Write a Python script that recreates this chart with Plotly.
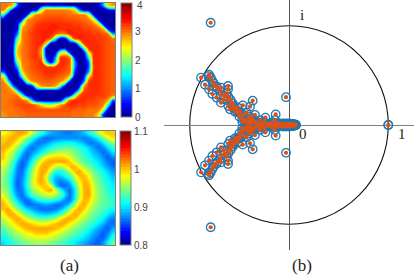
import plotly.graph_objects as go

# Upper field (values 0..4) on a 24x24 grid
field_u = [
 [2.95,2.95,2.7,0.7,0.1,0.1,0.1,0.1,0.1,0.3,0.3,0.3,0.3,0.2,0.1,0.1,0.1,0.1,0.1,0.1,0.2,1.0,2.6,2.85],
 [2.95,1.8,0.2,0.1,0.1,0.1,0.1,0.3,2.2,2.95,2.95,2.95,2.95,2.95,2.85,2.6,0.9,0.1,0.1,0.1,0.1,0.1,0.2,0.5],
 [1.5,0.2,0.1,0.1,0.1,0.3,2.4,2.95,3.0,3.07,3.07,3.07,3.07,3.07,3.0,3.0,2.95,2.95,2.3,0.3,0.1,0.1,0.1,0.1],
 [0.2,0.1,0.1,0.1,0.5,2.8,3.0,3.07,3.13,3.2,3.2,3.2,3.2,3.13,3.13,3.13,3.07,3.0,2.95,2.4,0.3,0.1,0.1,0.1],
 [0.1,0.1,0.1,0.2,2.3,2.95,3.07,3.2,3.27,3.27,3.3,3.3,3.27,3.27,3.27,3.2,3.2,3.13,3.07,3.0,2.6,0.4,0.1,0.1],
 [0.1,0.1,0.1,0.4,2.85,3.0,3.13,3.27,3.3,3.3,3.3,3.3,3.3,3.3,3.3,3.27,3.27,3.2,3.2,3.13,3.07,2.8,0.5,0.1],
 [0.1,0.1,0.1,0.9,2.95,3.07,3.2,3.27,3.3,3.3,3.3,3.13,2.95,3.0,3.3,3.3,3.3,3.27,3.27,3.2,3.2,3.13,3.0,1.0],
 [0.1,0.1,0.1,1.7,2.95,3.07,3.2,3.27,3.3,3.3,3.07,1.5,0.2,0.3,1.8,3.2,3.3,3.3,3.27,3.27,3.2,3.2,3.13,3.0],
 [0.1,0.1,0.2,2.2,2.95,3.07,3.2,3.27,3.3,2.6,0.2,0.1,0.1,0.1,0.1,0.2,1.9,3.27,3.3,3.27,3.27,3.2,3.13,3.07],
 [0.1,0.1,0.3,2.6,2.95,3.07,3.2,3.27,2.95,0.3,0.1,0.1,0.1,0.1,0.1,0.1,0.1,1.8,3.3,3.27,3.27,3.2,3.13,3.07],
 [0.1,0.1,0.3,2.7,2.95,3.07,3.2,3.27,2.8,0.2,0.1,0.3,2.0,2.4,0.5,0.1,0.1,0.2,2.4,3.3,3.27,3.2,3.13,3.07],
 [0.1,0.1,0.2,2.5,2.95,3.07,3.2,3.27,3.0,0.5,0.1,1.0,3.2,3.27,2.95,0.3,0.1,0.1,1.5,3.3,3.27,3.2,3.13,3.07],
 [0.1,0.1,0.1,1.9,2.95,3.0,3.13,3.2,3.27,1.5,0.1,1.5,3.3,3.27,3.13,1.0,0.1,0.1,0.8,3.27,3.27,3.2,3.13,3.07],
 [0.1,0.1,0.1,1.1,2.85,3.0,3.13,3.2,3.27,3.27,3.2,3.27,3.27,3.2,3.07,1.0,0.1,0.1,0.7,3.2,3.27,3.2,3.13,3.07],
 [0.7,0.1,0.1,0.4,2.6,2.95,3.07,3.13,3.2,3.27,3.27,3.27,3.2,3.13,3.0,0.6,0.1,0.1,1.1,3.27,3.27,3.2,3.13,3.07],
 [2.5,0.4,0.1,0.1,1.6,2.85,3.0,3.07,3.13,3.2,3.2,3.13,3.07,3.0,2.6,0.2,0.1,0.3,2.5,3.27,3.27,3.2,3.13,3.07],
 [2.95,1.4,0.1,0.1,0.2,2.0,2.85,3.0,3.07,3.07,3.07,3.0,2.95,2.5,0.4,0.1,0.1,0.8,3.2,3.27,3.27,3.2,3.13,3.07],
 [2.95,2.85,0.9,0.1,0.1,0.1,0.3,2.2,2.85,2.95,2.95,2.8,1.6,0.2,0.1,0.1,0.3,2.8,3.27,3.27,3.27,3.2,3.13,3.07],
 [2.95,2.95,2.8,1.2,0.1,0.1,0.1,0.1,0.1,0.1,0.1,0.1,0.1,0.1,0.1,0.1,1.5,3.13,3.27,3.27,3.27,3.2,3.13,3.07],
 [2.95,2.95,3.0,2.95,1.6,0.3,0.1,0.1,0.1,0.1,0.1,0.1,0.1,0.1,0.3,1.8,3.13,3.27,3.27,3.27,3.2,3.2,3.13,2.95],
 [2.95,3.0,3.07,3.13,3.07,2.8,1.2,0.2,0.1,0.1,0.1,0.1,0.2,1.6,3.07,3.27,3.27,3.27,3.2,3.2,3.13,3.07,2.85,0.8],
 [2.95,3.0,3.07,3.13,3.2,3.2,3.2,2.95,2.6,2.3,2.2,2.4,2.85,3.13,3.27,3.27,3.2,3.2,3.13,3.13,3.07,2.95,1.6,0.1],
 [2.95,2.95,3.0,3.07,3.07,3.13,3.13,3.13,3.13,3.13,3.13,3.13,3.13,3.13,3.13,3.07,3.07,3.07,3.0,3.0,2.95,2.3,0.3,0.1],
 [2.85,2.95,2.95,3.0,3.0,3.07,3.07,3.07,3.07,3.07,3.07,3.07,3.07,3.07,3.07,3.0,3.0,3.0,2.95,2.95,2.6,0.6,0.1,0.1],
]

# Lower field (values 0.8..1.1) on a 24x24 grid
field_l = [
 [0.98,0.99,1.0,1.01,1.01,1.0,0.97,0.94,0.92,0.9,0.885,0.88,0.875,0.87,0.87,0.875,0.88,0.89,0.91,0.93,0.96,0.99,1.0,1.0],
 [1.0,1.0,1.01,1.0,0.98,0.95,0.92,0.895,0.875,0.865,0.865,0.87,0.875,0.875,0.875,0.875,0.875,0.87,0.875,0.89,0.91,0.94,0.97,0.99],
 [1.0,1.01,1.0,0.98,0.95,0.92,0.89,0.87,0.87,0.875,0.89,0.9,0.905,0.91,0.91,0.905,0.895,0.885,0.87,0.87,0.88,0.9,0.93,0.95],
 [1.01,1.0,0.98,0.95,0.92,0.885,0.865,0.875,0.89,0.9,0.915,0.925,0.93,0.935,0.935,0.93,0.92,0.91,0.895,0.88,0.865,0.875,0.9,0.92],
 [1.0,0.98,0.96,0.93,0.895,0.865,0.875,0.89,0.905,0.925,0.945,0.955,0.96,0.96,0.955,0.945,0.93,0.92,0.905,0.89,0.88,0.865,0.875,0.9],
 [1.0,0.97,0.95,0.91,0.875,0.865,0.89,0.915,0.95,0.98,0.99,0.995,0.995,0.99,0.975,0.955,0.94,0.925,0.915,0.9,0.89,0.875,0.86,0.875],
 [0.985,0.96,0.93,0.89,0.86,0.875,0.91,0.95,0.985,1.005,1.01,1.01,1.01,1.01,1.0,0.97,0.95,0.935,0.925,0.91,0.9,0.885,0.87,0.86],
 [0.97,0.95,0.92,0.875,0.86,0.885,0.93,0.97,1.005,1.01,0.995,0.97,0.96,0.98,1.0,1.005,0.98,0.955,0.94,0.925,0.91,0.895,0.88,0.865],
 [0.96,0.94,0.905,0.87,0.865,0.9,0.945,0.985,1.01,1.005,0.96,0.92,0.915,0.93,0.96,1.0,1.01,0.985,0.96,0.94,0.925,0.91,0.895,0.88],
 [0.955,0.93,0.9,0.865,0.87,0.905,0.955,0.99,1.01,0.985,0.925,0.89,0.895,0.91,0.93,0.97,1.0,1.005,0.98,0.95,0.935,0.92,0.905,0.89],
 [0.95,0.93,0.895,0.86,0.875,0.91,0.96,0.995,1.01,0.99,0.92,0.885,0.87,0.88,0.9,0.945,0.985,1.005,0.995,0.96,0.94,0.925,0.91,0.9],
 [0.95,0.935,0.895,0.86,0.875,0.915,0.96,0.985,1.0,1.0,0.97,0.89,0.865,0.865,0.875,0.92,0.975,1.005,1.005,0.97,0.945,0.93,0.915,0.905],
 [0.96,0.94,0.9,0.865,0.87,0.905,0.945,0.965,0.98,1.0,1.01,0.97,0.92,0.885,0.865,0.9,0.965,1.005,1.01,0.975,0.95,0.935,0.92,0.91],
 [0.975,0.95,0.91,0.875,0.865,0.895,0.925,0.945,0.955,0.965,0.97,0.96,0.94,0.9,0.865,0.9,0.965,1.005,1.01,0.975,0.95,0.935,0.925,0.915],
 [0.995,0.965,0.93,0.895,0.87,0.865,0.885,0.905,0.92,0.925,0.925,0.915,0.9,0.875,0.865,0.905,0.975,1.005,1.0,0.97,0.95,0.94,0.93,0.92],
 [1.005,0.985,0.95,0.92,0.89,0.865,0.865,0.87,0.875,0.88,0.875,0.865,0.865,0.875,0.9,0.95,0.995,1.01,0.985,0.96,0.945,0.935,0.93,0.92],
 [1.0,1.01,0.98,0.95,0.92,0.9,0.885,0.875,0.865,0.865,0.865,0.87,0.885,0.91,0.95,0.99,1.01,0.995,0.97,0.95,0.94,0.93,0.92,0.91],
 [0.98,1.005,1.01,0.985,0.96,0.935,0.92,0.9,0.895,0.89,0.895,0.905,0.925,0.955,0.99,1.01,1.0,0.975,0.955,0.94,0.93,0.92,0.905,0.89],
 [0.965,0.985,1.0,1.01,0.995,0.97,0.955,0.945,0.935,0.935,0.945,0.96,0.985,1.005,1.01,1.0,0.975,0.96,0.945,0.93,0.92,0.905,0.885,0.87],
 [0.95,0.965,0.985,1.0,1.01,1.005,0.995,0.985,0.98,0.98,0.99,1.0,1.01,1.005,0.985,0.97,0.955,0.94,0.93,0.92,0.905,0.89,0.87,0.865],
 [0.935,0.95,0.965,0.98,0.995,1.005,1.01,1.01,1.01,1.01,1.01,1.005,0.995,0.98,0.965,0.95,0.94,0.93,0.915,0.9,0.885,0.87,0.86,0.88],
 [0.92,0.935,0.95,0.96,0.97,0.985,0.99,1.0,1.0,1.0,0.99,0.98,0.97,0.955,0.945,0.935,0.925,0.915,0.9,0.885,0.875,0.86,0.87,0.9],
 [0.91,0.92,0.935,0.945,0.955,0.965,0.97,0.975,0.975,0.975,0.97,0.96,0.95,0.94,0.93,0.92,0.91,0.9,0.89,0.875,0.865,0.86,0.885,0.92],
 [0.9,0.91,0.92,0.93,0.94,0.945,0.95,0.955,0.955,0.95,0.945,0.94,0.93,0.925,0.915,0.905,0.895,0.885,0.875,0.865,0.86,0.875,0.905,0.94],
]

# Eigenvalues with non-negative imaginary part (the rest are their conjugates)
eig_re = [-0.789,-0.03,1.0,
 -0.886,-0.805,-0.789,-0.846,-0.812,-0.772,-0.805,-0.755,-0.772,-0.721,-0.685,-0.614,-0.614,
 -0.685,-0.728,-0.685,-0.661,-0.611,-0.587,-0.611,-0.567,-0.554,-0.594,-0.52,-0.493,-0.544,
 -0.466,-0.393,-0.366,-0.46,-0.5,-0.426,-0.399,-0.443,-0.238,-0.134,-0.252,-0.342,-0.292,
 -0.376,-0.141,-0.47,
 -0.44,-0.42,-0.40,-0.38,-0.36,-0.34,-0.47,-0.5,-0.53,-0.56,-0.62,-0.65,-0.69,-0.73,-0.76,-0.63,-0.58,-0.52,
 -0.42,-0.39,-0.36,-0.33,-0.3,-0.27,-0.24,-0.21,-0.18,-0.16,-0.14,-0.12,-0.1,-0.08,-0.06,
 -0.045,-0.03,-0.015,0.0,0.01,0.02,0.03,0.04,0.05,0.06,0.07]
eig_im = [1.03,0.28,0.0,
 0.477,0.507,0.48,0.406,0.493,0.443,0.359,0.393,0.312,0.369,0.376,0.393,0.359,
 0.302,0.275,0.225,0.258,0.285,0.252,0.191,0.218,0.168,0.158,0.178,0.134,0.134,
 0.198,0.185,0.245,0.101,0.084,0.124,0.084,0.05,0.074,0.107,0.03,0.101,0.05,
 0.044,0.05,0.03,
 0.03,0.06,0.04,0.07,0.05,0.03,0.06,0.12,0.15,0.19,0.25,0.29,0.34,0.39,0.42,0.32,0.22,0.13,
 0.02,0.012,0.03,0.01,0.02,0.01,0.02,0.008,0.02,0.01,0.02,0.01,0.015,0.01,0.015,
 0.01,0.015,0.01,0.015,0.01,0.012,0.008,0.01,0.006,0.005,0.0]

ticks_u = [0, 1, 2, 3]
ticks_l = [0.8, 0.9, 1, 1.1]
W, H = 415, 276
GREY = "#808080"
TICKFONT = dict(family="Liberation Sans", size=10, color="#444444")
JET = [[0, "rgb(0,0,143)"], [0.11, "rgb(0,0,255)"], [0.36, "rgb(0,255,255)"], [0.61, "rgb(255,255,0)"],
       [0.86, "rgb(255,0,0)"], [1, "rgb(128,0,0)"]]

fig = go.Figure()

def dom_x(a, b):
    return [a / W, b / W]

def dom_y(top, bottom):
    return [1 - bottom / H, 1 - top / H]

def pad(rows):
    wide = [[r[0]] + r + [r[-1]] for r in rows]
    return [wide[0]] + wide + [wide[-1]]

grid = [-0.5] + list(range(24)) + [23.5]

fig.add_trace(go.Contour(
    z=pad(field_u), x=grid, y=grid, zmin=0, zmax=4, colorscale=JET,
    contours=dict(coloring="fill", start=0, end=4, size=0.05),
    line=dict(width=0, smoothing=1.3), xaxis="x", yaxis="y",
    colorbar=dict(x=121 / W, xanchor="left", xpad=0, y=1 - 3 / H, yanchor="top", ypad=0,
                  len=114 / H, lenmode="fraction", thickness=11, thicknessmode="pixels",
                  tickvals=ticks_u, ticks="", tickfont=TICKFONT,
                  outlinecolor=GREY, outlinewidth=1),
))
fig.add_trace(go.Contour(
    z=pad(field_l), x=grid, y=grid, zmin=0.8, zmax=1.1, colorscale=JET,
    contours=dict(coloring="fill", start=0.8, end=1.1, size=0.004),
    line=dict(width=0, smoothing=1.3), xaxis="x2", yaxis="y2",
    colorbar=dict(x=120 / W, xanchor="left", xpad=0, y=1 - 131 / H, yanchor="top", ypad=0,
                  len=114 / H, lenmode="fraction", thickness=11, thicknessmode="pixels",
                  tickvals=ticks_l, ticktext=["0.8", "0.9", "1", "1.1"], ticks="", tickfont=TICKFONT,
                  outlinecolor=GREY, outlinewidth=1),
))

re_all = eig_re + eig_re
im_all = eig_im + [-v for v in eig_im]
fig.add_trace(go.Scatter(
    x=re_all, y=im_all, mode="markers", xaxis="x3", yaxis="y3", showlegend=False,
    marker=dict(symbol="circle-open", size=8.5, color="#1f77b4", line=dict(width=1.3, color="#1f77b4")),
))
fig.add_trace(go.Scatter(
    x=re_all, y=im_all, mode="markers", xaxis="x3", yaxis="y3", showlegend=False,
    marker=dict(symbol="circle", size=4.2, color="#D95319"),
))

square = dict(showticklabels=False, ticks="", showgrid=False, zeroline=False, showline=True,
              mirror=True, linecolor=GREY, linewidth=1, range=[-0.5, 23.5])
square_y = dict(square, range=[23.5, -0.5])
fig.update_layout(
    width=W, height=H, margin=dict(l=0, r=0, t=0, b=0), showlegend=False,
    paper_bgcolor="white", plot_bgcolor="white",
    xaxis=dict(square, domain=dom_x(1, 115), anchor="y"),
    yaxis=dict(square_y, domain=dom_y(3, 117), anchor="x"),
    xaxis2=dict(square, domain=dom_x(1, 115), anchor="y2"),
    yaxis2=dict(square_y, domain=dom_y(131, 245), anchor="x2"),
    xaxis3=dict(domain=dom_x(164, 414), range=[-1.259, 1.259], anchor="y3", showticklabels=False, ticks="",
                showgrid=False, showline=False, zeroline=True, zerolinecolor="#555555", zerolinewidth=1),
    yaxis3=dict(domain=dom_y(0, 250), range=[-1.259, 1.259], anchor="x3", showticklabels=False, ticks="",
                showgrid=False, showline=False, zeroline=True, zerolinecolor="#808080", zerolinewidth=1),
    shapes=[dict(type="circle", xref="x3", yref="y3", x0=-1, x1=1, y0=-1, y1=1,
                 line=dict(color="#111111", width=1.1), layer="below")],
)

SERIF = dict(family="Liberation Serif", color="#222222")
labels = [("(a)", 69, 265, 17), ("(b)", 302, 265, 17), ("i", 302, 15, 15), ("0", 303, 134, 15), ("1", 402, 134, 15)]
for text, px, py, size in labels:
    fig.add_annotation(text=text, x=px / W, y=1 - py / H, xref="paper", yref="paper",
                       showarrow=False, font=dict(SERIF, size=size), xanchor="center", yanchor="middle")
fig.add_annotation(text="4", x=136 / W, y=1 - 6 / H, xref="paper", yref="paper", showarrow=False,
                   font=TICKFONT, xanchor="left", yanchor="middle", xshift=-1)

fig.write_html("out.html", config=dict(displayModeBar=False), post_script="document.body.style.margin='0';")
